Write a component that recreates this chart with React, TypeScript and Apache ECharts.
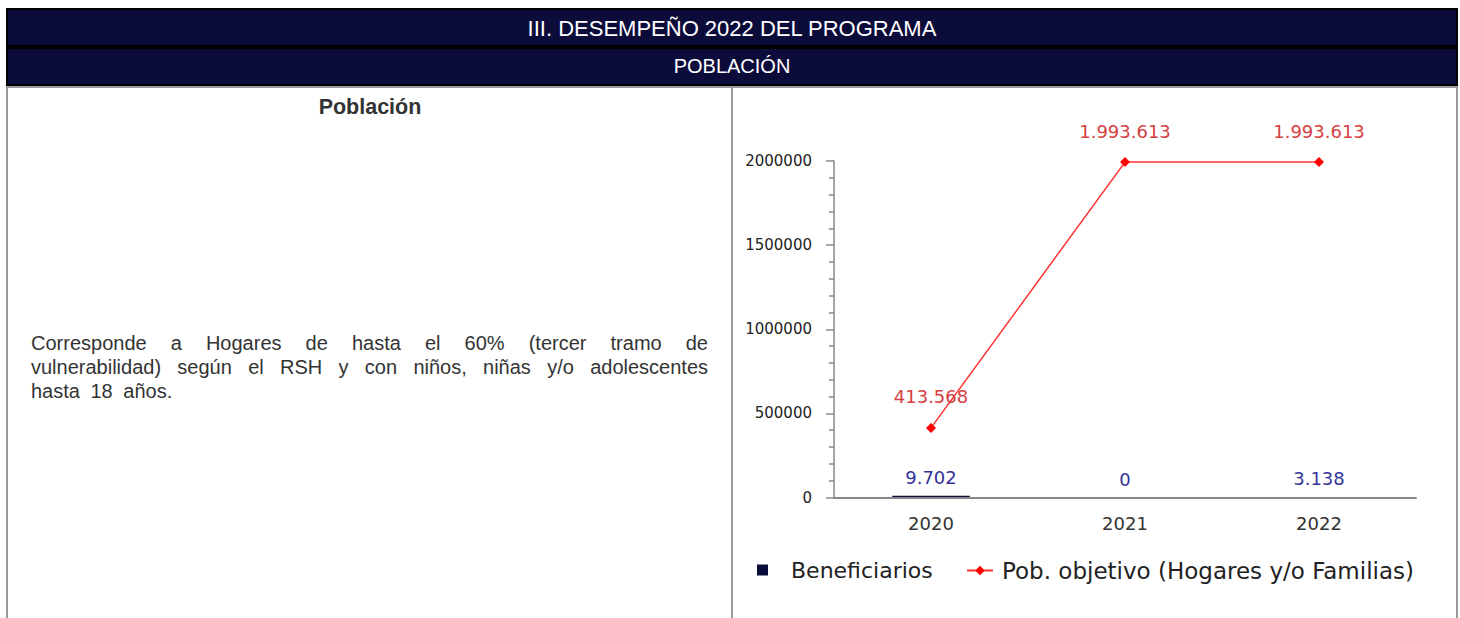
import React, { useEffect, useRef } from "react";
import * as echarts from "echarts";

const headerTitle = "III. DESEMPEÑO 2022 DEL PROGRAMA";
const headerSub = "POBLACIÓN";
const leftTitle = "Población";
const leftText =
  "Corresponde a Hogares de hasta el 60% (tercer tramo de vulnerabilidad) según el RSH y con niños, niñas y/o adolescentes hasta 18 años.";

const years = ["2020", "2021", "2022"];
const beneficiarios = [9702, 0, 3138];
const poblacionObjetivo = [413568, 1993613, 1993613];
const seriesNames = ["Beneficiarios", "Pob. objetivo (Hogares y/o Familias)"];

const NAVY = "#0c0c3a";

function fmt(v: number): string {
  return String(Math.round(v)).replace(/\B(?=(\d{3})+(?!\d))/g, ".");
}

export default function App() {
  const ref = useRef<HTMLDivElement>(null);

  useEffect(() => {
    if (!ref.current) return;
    const chart = echarts.init(ref.current, undefined, { renderer: "svg" });
    chart.setOption({
      animation: false,
      backgroundColor: "transparent",
      textStyle: { fontFamily: "DejaVu Sans" },
      grid: { left: 834, right: 44, top: 161, bottom: 120.5, containLabel: false },
      legend: [
        {
          data: [seriesNames[0]],
          left: 752,
          top: 554,
          icon: "rect",
          itemWidth: 11,
          itemHeight: 11,
          itemGap: 0,
          textStyle: { fontSize: 22, color: "#222", fontFamily: "DejaVu Sans", padding: [0, 0, 0, 18] },
        },
        {
          data: [seriesNames[1]],
          left: 961,
          top: 554,
          itemWidth: 26,
          itemHeight: 12,
          textStyle: { fontSize: 23, color: "#222", fontFamily: "DejaVu Sans", padding: [0, 0, 0, 4] },
        },
      ],
      xAxis: {
        type: "category",
        data: years,
        z: 5,
        axisLine: { lineStyle: { color: "#888", width: 2 } },
        axisTick: { show: false },
        axisLabel: { fontSize: 18, color: "#333", margin: 17 },
      },
      yAxis: {
        type: "value",
        min: 0,
        max: 2000000,
        interval: 500000,
        splitLine: { show: false },
        axisLine: { show: true, lineStyle: { color: "#888", width: 1.5 } },
        axisTick: { show: true, length: 8, lineStyle: { color: "#888", width: 1.5 } },
        minorTick: { show: true, splitNumber: 5, length: 5, lineStyle: { color: "#888", width: 1.5 } },
        axisLabel: { fontSize: 15, color: "#222", margin: 22, formatter: (v: number) => String(v) },
      },
      series: [
        {
          name: seriesNames[0],
          type: "bar",
          data: beneficiarios,
          barWidth: "40%",
          z: 1,
          itemStyle: { color: NAVY },
          label: {
            show: true,
            position: "top",
            distance: 9,
            fontSize: 18,
            color: "#33339a",
            formatter: (p: any) => fmt(p.value),
          },
        },
        {
          name: seriesNames[1],
          type: "line",
          data: poblacionObjetivo,
          symbol: "diamond",
          symbolSize: 10,
          z: 6,
          itemStyle: { color: "#ff0000" },
          lineStyle: { color: "#ff3030", width: 1.5 },
          label: {
            show: true,
            position: "top",
            distance: 17,
            fontSize: 18,
            color: "#d44040",
            formatter: (p: any) => fmt(p.value),
          },
        },
      ],
    });
    return () => chart.dispose();
  }, []);

  const font = "'Liberation Sans', Arial, sans-serif";
  return (
    <div style={{ position: "fixed", left: 0, top: 0, width: 1460, height: 618, overflow: "hidden", fontFamily: font }}>
      <div
        style={{
          position: "absolute", left: 6, top: 8, width: 1452, height: 39, boxSizing: "border-box",
          background: NAVY, border: "2px solid #000", color: "#fff", fontSize: 22,
          display: "flex", alignItems: "center", justifyContent: "center", paddingTop: 2,
        }}
      >
        {headerTitle}
      </div>
      <div
        style={{
          position: "absolute", left: 6, top: 47, width: 1452, height: 39, boxSizing: "border-box",
          background: NAVY, border: "2px solid #000", color: "#fff", fontSize: 20,
          display: "flex", alignItems: "center", justifyContent: "center",
        }}
      >
        {headerSub}
      </div>
      <div
        style={{
          position: "absolute", left: 6, top: 86, width: 1452, height: 560, boxSizing: "border-box",
          border: "2px solid #999", background: "#fff",
        }}
      />
      <div style={{ position: "absolute", left: 731, top: 86, width: 2, height: 560, background: "#999" }} />
      <div
        style={{
          position: "absolute", left: 8, top: 95, width: 724, textAlign: "center",
          fontWeight: "bold", fontSize: 21.5, lineHeight: "24px", color: "#333",
        }}
      >
        {leftTitle}
      </div>
      <div
        style={{
          position: "absolute", left: 31, top: 331, width: 677, textAlign: "justify",
          fontSize: 20, lineHeight: "24px", color: "#333", wordSpacing: 5,
        }}
      >
        {leftText}
      </div>
      <div ref={ref} style={{ position: "absolute", left: 0, top: 0, width: 1460, height: 618 }} />
    </div>
  );
}
